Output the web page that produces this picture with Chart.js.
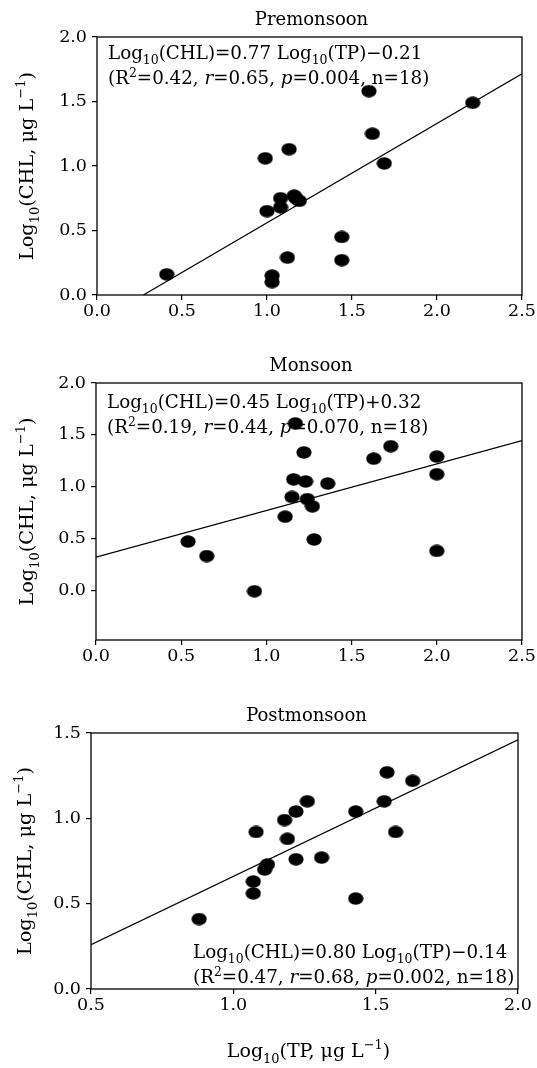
<!DOCTYPE html>
<html>
<head>
<meta charset="utf-8">
<script src="https://cdn.jsdelivr.net/npm/chart.js@4.4.0/dist/chart.umd.min.js"></script>
<style>
  body { margin: 0; background: #fff; width: 537px; height: 1068px; position: relative; overflow: hidden; }
  canvas { position: absolute; left: 0; }
</style>
</head>
<body>
<canvas id="pre" width="537" height="330" style="top:0"></canvas>
<canvas id="mon" width="537" height="350" style="top:330px"></canvas>
<canvas id="post" width="537" height="388" style="top:680px"></canvas>
<script>
// log10 TP vs log10 CHL, one panel per season
const preTP  = [0.41, 0.99, 1.13, 1.00, 1.08, 1.08, 1.16, 1.19, 1.17, 1.03, 1.03, 1.12, 1.44, 1.44, 1.60, 1.62, 1.69, 2.21];
const preCHL = [0.16, 1.06, 1.13, 0.65, 0.75, 0.68, 0.77, 0.73, 0.75, 0.15, 0.10, 0.29, 0.45, 0.27, 1.58, 1.25, 1.02, 1.49];

const monTP  = [0.54, 0.65, 0.93, 1.17, 1.22, 1.16, 1.23, 1.36, 1.15, 1.24, 1.27, 1.11, 1.28, 1.63, 1.73, 2.00, 2.00, 2.00];
const monCHL = [0.47, 0.33, -0.01, 1.61, 1.33, 1.07, 1.05, 1.03, 0.90, 0.88, 0.81, 0.71, 0.49, 1.27, 1.39, 1.29, 1.12, 0.38];

const postTP  = [0.88, 1.07, 1.07, 1.08, 1.11, 1.12, 1.18, 1.19, 1.22, 1.26, 1.22, 1.31, 1.43, 1.43, 1.53, 1.54, 1.57, 1.63];
const postCHL = [0.41, 0.56, 0.63, 0.92, 0.70, 0.73, 0.99, 0.88, 1.04, 1.10, 0.76, 0.77, 1.04, 0.53, 1.10, 1.27, 0.92, 1.22];

// slope, intercept
const preFit  = [0.77, -0.21];
const monFit  = [0.45, 0.32];
const postFit = [0.80, -0.14];

// R2, r, p, n
const preStats  = ["0.42", "0.65", "0.004", "18"];
const monStats  = ["0.19", "0.44", "0.070", "18"];
const postStats = ["0.47", "0.68", "0.002", "18"];

const ticks25 = [0, 0.5, 1, 1.5, 2, 2.5];
const ticks20 = [0, 0.5, 1, 1.5, 2];
const ticksPostX = [0.5, 1, 1.5, 2];
const ticksPostY = [0, 0.5, 1, 1.5];

const FONT = '"DejaVu Serif", "Liberation Serif", serif';

// filled black ellipse used as the marker
const dot = document.createElement('canvas');
dot.width = 16; dot.height = 13;
(function () {
  const c = dot.getContext('2d');
  c.fillStyle = '#000';
  c.beginPath();
  c.ellipse(8, 6.5, 7.6, 6.2, 0, 0, Math.PI * 2);
  c.fill();
})();

// text runs: [string, kind] where kind is '', 'sub', 'sup' or 'i'
function drawRich(ctx, parts, x, y, size, align) {
  const fontFor = k => (k === 'i' ? 'italic ' : '') + ((k === 'sub' || k === 'sup') ? size * 0.68 : size) + 'px ' + FONT;
  let w = 0;
  parts.forEach(([t, k]) => { ctx.font = fontFor(k); w += ctx.measureText(t).width; });
  let cx = align === 'center' ? x - w / 2 : x;
  ctx.textAlign = 'left';
  ctx.textBaseline = 'alphabetic';
  ctx.fillStyle = '#000';
  parts.forEach(([t, k]) => {
    ctx.font = fontFor(k);
    const dy = k === 'sub' ? size * 0.3 : k === 'sup' ? -size * 0.4 : 0;
    ctx.fillText(t, cx, y + dy);
    cx += ctx.measureText(t).width;
  });
}

function eqLines(fit, stats) {
  const sign = fit[1] < 0 ? '\u2212' : '+';
  const line1 = [['Log', ''], ['10', 'sub'], ['(CHL)=' + fit[0].toFixed(2) + ' Log', ''], ['10', 'sub'],
                 ['(TP)' + sign + Math.abs(fit[1]).toFixed(2), '']];
  const line2 = [['(R', ''], ['2', 'sup'], ['=' + stats[0] + ', ', ''], ['r', 'i'], ['=' + stats[1] + ', ', ''],
                 ['p', 'i'], ['=' + stats[2] + ', n=' + stats[3] + ')', '']];
  return [line1, line2];
}

function makePanel(id, cfg) {
  const canvas = document.getElementById(id);
  const H = canvas.height;

  // fitted line across the x range, cut at the lower y limit
  let x0 = cfg.xRange[0];
  if (cfg.fit[0] * x0 + cfg.fit[1] < cfg.yRange[0]) x0 = (cfg.yRange[0] - cfg.fit[1]) / cfg.fit[0];
  const x1 = cfg.xRange[1];
  const fitLine = [x0, x1].map(x => ({ x: x, y: cfg.fit[0] * x + cfg.fit[1] }));

  const deco = {
    id: 'deco',
    beforeDatasetsDraw(chart) {
      const ctx = chart.ctx;
      const a = chart.chartArea;
      ctx.save();
      // season title
      ctx.font = '18px ' + FONT;
      ctx.fillStyle = '#000';
      ctx.textAlign = 'center';
      ctx.textBaseline = 'alphabetic';
      ctx.fillText(cfg.title, (a.left + a.right) / 2 + 2, a.top - 12);
      // regression equation
      const lines = eqLines(cfg.fit, cfg.stats);
      const y1 = cfg.eq[1] < 0 ? a.bottom + cfg.eq[1] : a.top + cfg.eq[1];
      drawRich(ctx, lines[0], a.left + cfg.eq[0], y1, 18.3);
      drawRich(ctx, lines[1], a.left + cfg.eq[0], y1 + 25, 18.3);
      // y axis title
      ctx.translate(cfg.yTitleX, (a.top + a.bottom) / 2);
      ctx.rotate(-Math.PI / 2);
      drawRich(ctx, [['Log', ''], ['10', 'sub'], ['(CHL, \u03bcg L', ''], ['\u22121', 'sup'], [')', '']], 0, 0, 19.3, 'center');
      ctx.restore();
      if (cfg.xTitle) {
        ctx.save();
        drawRich(ctx, [['Log', ''], ['10', 'sub'], ['(TP, \u03bcg L', ''], ['\u22121', 'sup'], [')', '']],
                 (a.left + a.right) / 2 + 4, a.bottom + 68, 19, 'center');
        ctx.restore();
      }
    },
    afterDraw(chart) {
      const ctx = chart.ctx;
      const a = chart.chartArea;
      ctx.save();
      ctx.strokeStyle = '#000';
      ctx.lineWidth = 1.3;
      ctx.strokeRect(a.left, a.top, a.right - a.left, a.bottom - a.top);
      ctx.restore();
    }
  };

  const axis = (range, tickVals) => ({
    type: 'linear',
    min: range[0],
    max: range[1],
    afterBuildTicks: s => { s.ticks = tickVals.map(v => ({ value: v })); },
    grid: { display: true, drawOnChartArea: false, drawTicks: true, tickLength: 5, color: '#000', lineWidth: 1.2 },
    border: { display: false },
    ticks: {
      color: '#000',
      font: { family: FONT, size: 17.5 },
      autoSkip: false,
      maxRotation: 0,
      callback: v => v.toFixed(1)
    }
  });

  const xAxis = axis(cfg.xRange, cfg.xTicks);
  xAxis.ticks.padding = 1;
  xAxis.afterFit = s => { s.height = H - cfg.area[3]; };
  const yAxis = axis(cfg.yRange, cfg.yTicks);
  yAxis.ticks.padding = 5;
  yAxis.afterFit = s => { s.width = cfg.area[0]; };

  return new Chart(canvas, {
    data: {
      datasets: [
        {
          type: 'line',
          data: fitLine,
          borderColor: '#000',
          borderWidth: 1.2,
          pointRadius: 0,
          fill: false
        },
        {
          type: 'scatter',
          data: cfg.tp.map((x, i) => ({ x: x, y: cfg.chl[i] })),
          pointStyle: dot,
          pointRadius: 6,
          backgroundColor: '#000',
          borderColor: '#000'
        }
      ]
    },
    options: {
      responsive: false,
      animation: false,
      events: [],
      layout: { padding: { left: 0, top: cfg.area[1], right: 537 - cfg.area[2], bottom: 0 } },
      plugins: { legend: { display: false }, tooltip: { enabled: false } },
      scales: { x: xAxis, y: yAxis }
    },
    plugins: [deco]
  });
}

makePanel('pre', {
  title: 'Premonsoon', tp: preTP, chl: preCHL, fit: preFit, stats: preStats,
  xRange: [0, 2.5], yRange: [0, 2], xTicks: ticks25, yTicks: ticks20,
  area: [97, 37, 522, 295], eq: [11, 22], yTitleX: 33
});
makePanel('mon', {
  title: 'Monsoon', tp: monTP, chl: monCHL, fit: monFit, stats: monStats,
  xRange: [0, 2.5], yRange: [-0.48, 2], xTicks: ticks25, yTicks: ticks20,
  area: [96, 53, 522, 310], eq: [11, 25], yTitleX: 33
});
makePanel('post', {
  title: 'Postmonsoon', tp: postTP, chl: postCHL, fit: postFit, stats: postStats,
  xRange: [0.5, 2.0], yRange: [0, 1.5], xTicks: ticksPostX, yTicks: ticksPostY,
  area: [91, 53, 518, 309], eq: [102, -31], yTitleX: 31, xTitle: true
});
</script>
</body>
</html>
